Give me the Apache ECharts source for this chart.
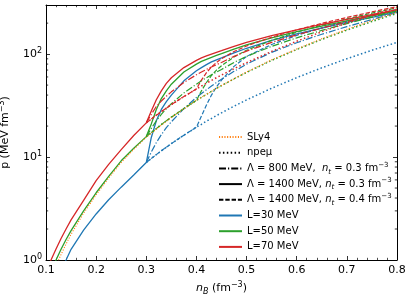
<!DOCTYPE html>
<html><head><meta charset="utf-8">
<script src="https://cdn.jsdelivr.net/npm/echarts@6/dist/echarts.min.js"></script>
<style>html,body{margin:0;padding:0;background:#fff}#c{width:411px;height:297px}</style>
</head><body><div id="c"></div>
<script>
// ---- data (n_B in fm^-3, p in MeV fm^-3) ----
const nLow = [0.10, 0.11, 0.12, 0.13, 0.14, 0.15, 0.175, 0.2, 0.225, 0.25, 0.275, 0.3];
const hadL30 = [null, null, null, 0.8, 1.0, 1.27, 1.95, 2.8, 3.85, 5.1, 6.7, 8.85];
const hadL50 = [null, 0.78, 1.0, 1.27, 1.58, 1.93, 3.0, 4.5, 6.5, 9.2, 12.2, 15.8];
const hadL70 = [0.78, 1.0, 1.28, 1.62, 2.0, 2.45, 3.8, 5.9, 8.5, 11.8, 16.2, 21.5];

const nHigh = [0.3, 0.31, 0.32, 0.33, 0.34, 0.35, 0.375, 0.4, 0.41, 0.42, 0.43, 0.44, 0.45, 0.475, 0.5, 0.55, 0.6, 0.65, 0.7, 0.75, 0.8];

// npe-mu (dotted)
const npeL30 = [8.85, 9.68, 10.56, 11.49, 12.47, 13.5, 16.3, 19.5, 20.8, 22.3, 23.7, 25.3, 26.9, 31.2, 35.9, 46.6, 59.1, 73.6, 90.2, 109, 130];
const npeL50 = [15.8, 17.3, 18.9, 20.7, 22.5, 24.4, 29.6, 35.5, 38.0, 40.7, 43.5, 46.4, 49.4, 57.5, 66.4, 86.8, 110.8, 138.8, 170.8, 207.5, 248.7];
const npeL70 = [21.5, 23.4, 25.5, 27.6, 29.9, 32.3, 38.7, 45.9, 49.0, 52.2, 55.5, 59.0, 62.6, 72.2, 82.6, 106.2, 133.5, 164.9, 200.4, 240.4, 284.9];

// Lambda = 1400 MeV, n_t = 0.3 (solid)
const s14L30 = [8.85, 15.5, 22.5, 29, 34.5, 40, 55, 69, 74, 79, 84, 88, 92, 103, 114, 136, 157, 179, 203, 228, 256];
const s14L50 = [15.8, 21, 29, 37, 44, 51, 67, 80, 85, 89, 93, 97, 101, 112, 123, 144, 165, 187, 210, 235, 263];
const s14L70 = [21.5, 28, 36, 44, 52, 59, 74, 87, 92, 96, 100, 104, 108, 119, 130, 151, 172, 194, 217, 242, 270];

// Lambda = 800 MeV, n_t = 0.3 (dash-dot)
const d8L30 = [8.85, 11.2, 13.8, 16.5, 19.3, 22, 29.5, 38, 41.5, 45, 49, 53, 57, 68, 80, 104, 129, 156, 185, 217, 254];
const d8L50 = [15.8, 19, 22.5, 26, 29.5, 33, 42, 51, 55, 59, 63, 67, 71, 83, 95, 119, 144, 170, 198, 229, 264];
const d8L70 = [21.5, 26, 31, 35, 39, 43, 53, 63, 67, 71, 75, 79, 83, 95, 107, 130, 154, 179, 206, 236, 270];

// Lambda = 1400 MeV, n_t = 0.4 (dashed)
const d14L30 = [8.85, 9.68, 10.56, 11.49, 12.47, 13.5, 16.3, 19.5, 25, 32, 40, 48, 56, 76, 95, 124, 152, 180, 209, 239, 272];
const d14L50 = [15.8, 17.3, 18.9, 20.7, 22.5, 24.4, 29.6, 35.5, 44, 53, 62, 70, 77, 94, 109, 136, 163, 191, 220, 250, 282];
const d14L70 = [21.5, 23.4, 25.5, 27.6, 29.9, 32.3, 38.7, 45.9, 56, 66, 75, 83, 90, 106, 120, 146, 172, 199, 227, 257, 290];

// SLy4
const nSly = [0.115, 0.12, 0.13, 0.14, 0.15, 0.175, 0.2, 0.225, 0.25, 0.275, 0.3, 0.35, 0.4, 0.45, 0.5, 0.55, 0.6, 0.65, 0.7, 0.75, 0.8];
const pSly = [0.75, 0.88, 1.13, 1.43, 1.78, 2.85, 4.3, 6.25, 8.85, 11.9, 15.6, 24.3, 35.6, 49.6, 67, 88, 112, 141, 174, 212, 255];

const yMinorTicks = [2, 3, 4, 5, 6, 7, 8, 9, 20, 30, 40, 50, 60, 70, 80, 90, 200];
const legendNames = ['SLy4', 'npeμ', 'L800a', 'L1400a', 'L1400b', 'L=30 MeV', 'L=50 MeV', 'L=70 MeV'];

// ---- styling ----
const FONT = 'DejaVu Sans';
const C = {b: '#1f77b4', g: '#2ca02c', r: '#d62728', o: '#ff7f0e', k: '#000000'};
const ST = {
  solid: {type: 'solid', width: 1.3},
  dot: {type: [1.5, 2.4], width: 1.5},
  dashdot: {type: [7, 2, 1.2, 2], width: 1.2},
  dash: {type: [4.4, 1.9], width: 1.2},
  sly: {type: [1.1, 1.6], width: 1.1}
};
function zip(ns, ps) { return ns.map((n, i) => [n, ps[i]]); }
function line(name, data, color, st, z) {
  return {type: 'line', name, data, color, symbol: 'none', showSymbol: false, clip: true,
    itemStyle: {opacity: 0},
    lineStyle: {color, width: st.width, type: st.type, cap: 'butt'}, z: z || 2, animation: false, silent: true};
}
const series = [];
const sets = [
  ['30', C.b, hadL30, npeL30, s14L30, d8L30, d14L30],
  ['50', C.g, hadL50, npeL50, s14L50, d8L50, d14L50],
  ['70', C.r, hadL70, npeL70, s14L70, d8L70, d14L70]
];
sets.forEach(([L, col, had, npe, s14, d8, d14], k) => {
  series.push(line('npe' + L, zip(nHigh, npe), col, ST.dot, 2 + k));
  series.push(line('d8' + L, zip(nHigh, d8), col, ST.dashdot, 2 + k));
  series.push(line('d14' + L, zip(nHigh, d14), col, ST.dash, 2 + k));
  series.push(line('s14' + L, zip(nLow, had).concat(zip(nHigh.slice(1), s14.slice(1))), col, ST.solid, 2 + k));
});
series.push(line('SLy4', zip(nSly, pSly), C.o, ST.sly, 6));
// legend-only entries
series.push(line('npeμ', [], C.k, ST.dot));
series.push(line('L800a', [], C.k, ST.dashdot));
series.push(line('L1400a', [], C.k, ST.solid));
series.push(line('L1400b', [], C.k, ST.dash));
series.push(line('L=30 MeV', [], C.b, ST.solid));
series.push(line('L=50 MeV', [], C.g, ST.solid));
series.push(line('L=70 MeV', [], C.r, ST.solid));
// y minor ticks (left and right frame) via custom series
series.push({
  type: 'custom', name: 'yminor', silent: true, clip: false, z: 10, animation: false,
  data: yMinorTicks.map(v => [0.1, v]),
  renderItem: function (params, api) {
    const y = api.coord([0.1, api.value(1)])[1];
    const cs = params.coordSys;
    return {type: 'group', children: [
      {type: 'line', shape: {x1: cs.x, y1: y, x2: cs.x + 2.2, y2: y}, style: {stroke: '#000', lineWidth: 0.8}},
      {type: 'line', shape: {x1: cs.x + cs.width - 2.2, y1: y, x2: cs.x + cs.width, y2: y}, style: {stroke: '#000', lineWidth: 0.8}}
    ]};
  }
});

const richBase = {
  i: {fontStyle: 'italic', fontFamily: FONT, fontSize: 10, color: '#000', lineHeight: 14},
  t: {fontFamily: FONT, fontSize: 10, color: '#000', lineHeight: 14},
  sub: {fontStyle: 'italic', fontFamily: FONT, fontSize: 7, color: '#000', lineHeight: 9, verticalAlign: 'bottom'},
  sup: {fontFamily: FONT, fontSize: 7, color: '#000', lineHeight: 9, verticalAlign: 'top'}
};
const legendLabels = {
  'SLy4': '{t|SLy4}',
  'npeμ': '{t|npeμ}',
  'L800a': '{t|Λ = 800 MeV,  }{i|n}{sub|t}{t| = 0.3 fm}{sup|−3}',
  'L1400a': '{t|Λ = 1400 MeV, }{i|n}{sub|t}{t| = 0.3 fm}{sup|−3}',
  'L1400b': '{t|Λ = 1400 MeV, }{i|n}{sub|t}{t| = 0.4 fm}{sup|−3}',
  'L=30 MeV': '{t|L=30 MeV}',
  'L=50 MeV': '{t|L=50 MeV}',
  'L=70 MeV': '{t|L=70 MeV}'
};

const axisLine = {show: true, onZero: false, lineStyle: {color: '#000', width: 1}};
const xCommon = {
  type: 'value', min: 0.1, max: 0.8, interval: 0.1, axisLine,
  axisTick: {show: true, inside: true, length: 4, lineStyle: {color: '#000', width: 0.8}},
  minorTick: {show: true, splitNumber: 5, length: 2.2, lineStyle: {color: '#000', width: 0.7}},
  splitLine: {show: false}
};
const yCommon = {
  type: 'log', logBase: 10, min: 1, max: 300, axisLine,
  axisTick: {show: true, inside: true, length: 4, lineStyle: {color: '#000', width: 0.8}},
  splitLine: {show: false}
};
function powLabel(v) {
  const e = Math.round(Math.log10(v));
  if (Math.abs(Math.log10(v) - e) > 1e-6) return '';
  return '{b|10}{s|' + e + '}';
}

const option = {
  animation: false,
  backgroundColor: '#fff',
  grid: {left: 46, right: 14, top: 5, bottom: 37, containLabel: false, outerBoundsMode: 'none'},
  xAxis: [
    Object.assign({}, xCommon, {
      position: 'bottom',
      axisLabel: {show: true, margin: 5, fontFamily: FONT, fontSize: 11, color: '#000'},
      name: '{i|n}{sub|B}{t| (fm}{sup|−3}{t|)}', nameLocation: 'middle', nameGap: 21,
      nameTextStyle: {rich: {
        i: {fontStyle: 'italic', fontFamily: FONT, fontSize: 11, color: '#000', lineHeight: 15},
        t: {fontFamily: FONT, fontSize: 11, color: '#000', lineHeight: 15},
        sub: {fontStyle: 'italic', fontFamily: FONT, fontSize: 8, color: '#000', lineHeight: 10, verticalAlign: 'bottom'},
        sup: {fontFamily: FONT, fontSize: 8, color: '#000', lineHeight: 10, verticalAlign: 'top'}
      }}
    }),
    Object.assign({}, xCommon, {position: 'top', axisLabel: {show: false}})
  ],
  yAxis: [
    Object.assign({}, yCommon, {
      position: 'left',
      axisLabel: {show: true, margin: 4, formatter: powLabel, showMaxLabel: false,
        rich: {
          b: {fontFamily: FONT, fontSize: 11, color: '#000', lineHeight: 15},
          s: {fontFamily: FONT, fontSize: 8, color: '#000', lineHeight: 10, verticalAlign: 'top'}
        }},
      name: '{t|p (MeV fm}{sup|−3}{t|)}', nameLocation: 'middle', nameGap: 33, nameRotate: 90,
      nameTextStyle: {rich: {
        t: {fontFamily: FONT, fontSize: 11, color: '#000', lineHeight: 15},
        sup: {fontFamily: FONT, fontSize: 8, color: '#000', lineHeight: 10, verticalAlign: 'top'}
      }}
    }),
    Object.assign({}, yCommon, {position: 'right', axisLabel: {show: false}})
  ],
  legend: {
    data: legendNames, orient: 'vertical', left: 218, top: 130, padding: 0,
    itemWidth: 23, itemHeight: 10, itemGap: 1.7, selectedMode: false,
    itemStyle: {opacity: 0, borderWidth: 0},
    formatter: name => legendLabels[name],
    textStyle: {fontFamily: FONT, fontSize: 10, color: '#000', lineHeight: 14, rich: richBase}
  },
  series
};
const chart = echarts.init(document.getElementById('c'), null, {renderer: 'canvas'});
chart.setOption(option);
</script></body></html>
